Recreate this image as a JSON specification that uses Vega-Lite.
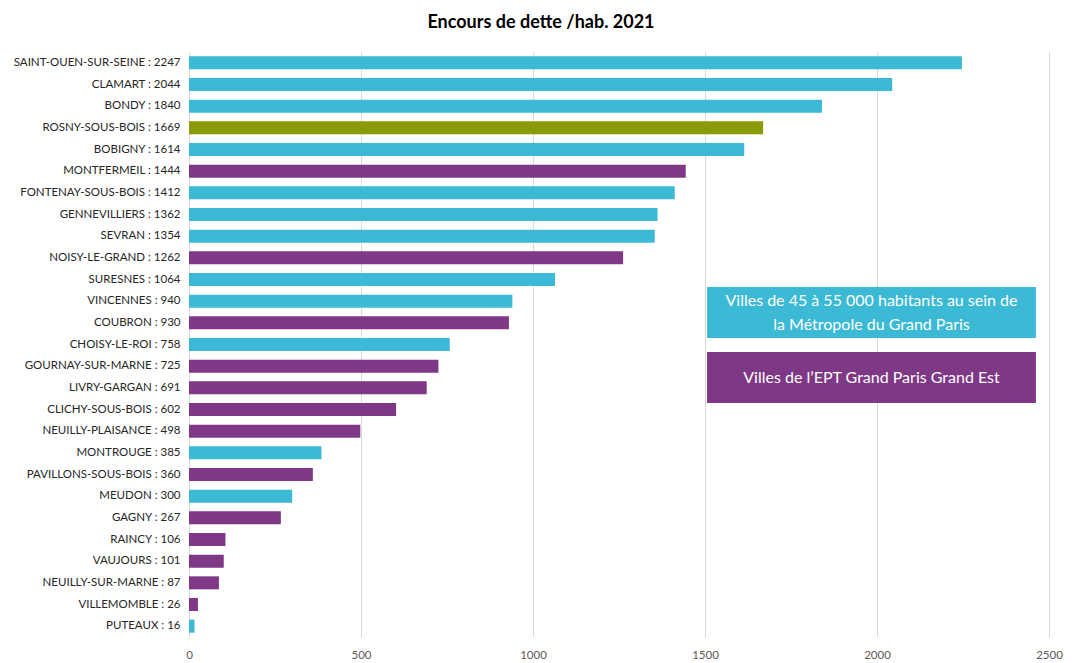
{
  "$schema": "https://vega.github.io/schema/vega-lite/v6.json",
  "autosize": {"type": "none"},
  "padding": {"left": 189, "top": 52, "right": 27, "bottom": 26},
  "width": 860,
  "height": 585,
  "background": "white",
  "title": {
    "text": "Encours de dette /hab. 2021",
    "font": "Lato",
    "fontSize": 18,
    "fontWeight": "bold",
    "color": "#000000",
    "anchor": "middle",
    "frame": "group",
    "dx": -78,
    "baseline": "middle",
    "offset": 11
  },
  "config": {
    "view": {"stroke": null},
    "font": "Lato"
  },
  "datasets": {
    "bars": [
      {"label": "SAINT-OUEN-SUR-SEINE : 2247", "name": "SAINT-OUEN-SUR-SEINE", "value": 2247, "group": "metro"},
      {"label": "CLAMART : 2044", "name": "CLAMART", "value": 2044, "group": "metro"},
      {"label": "BONDY : 1840", "name": "BONDY", "value": 1840, "group": "metro"},
      {"label": "ROSNY-SOUS-BOIS : 1669", "name": "ROSNY-SOUS-BOIS", "value": 1669, "group": "rosny"},
      {"label": "BOBIGNY : 1614", "name": "BOBIGNY", "value": 1614, "group": "metro"},
      {"label": "MONTFERMEIL : 1444", "name": "MONTFERMEIL", "value": 1444, "group": "ept"},
      {"label": "FONTENAY-SOUS-BOIS : 1412", "name": "FONTENAY-SOUS-BOIS", "value": 1412, "group": "metro"},
      {"label": "GENNEVILLIERS : 1362", "name": "GENNEVILLIERS", "value": 1362, "group": "metro"},
      {"label": "SEVRAN : 1354", "name": "SEVRAN", "value": 1354, "group": "metro"},
      {"label": "NOISY-LE-GRAND : 1262", "name": "NOISY-LE-GRAND", "value": 1262, "group": "ept"},
      {"label": "SURESNES : 1064", "name": "SURESNES", "value": 1064, "group": "metro"},
      {"label": "VINCENNES : 940", "name": "VINCENNES", "value": 940, "group": "metro"},
      {"label": "COUBRON : 930", "name": "COUBRON", "value": 930, "group": "ept"},
      {"label": "CHOISY-LE-ROI : 758", "name": "CHOISY-LE-ROI", "value": 758, "group": "metro"},
      {"label": "GOURNAY-SUR-MARNE : 725", "name": "GOURNAY-SUR-MARNE", "value": 725, "group": "ept"},
      {"label": "LIVRY-GARGAN : 691", "name": "LIVRY-GARGAN", "value": 691, "group": "ept"},
      {"label": "CLICHY-SOUS-BOIS : 602", "name": "CLICHY-SOUS-BOIS", "value": 602, "group": "ept"},
      {"label": "NEUILLY-PLAISANCE : 498", "name": "NEUILLY-PLAISANCE", "value": 498, "group": "ept"},
      {"label": "MONTROUGE : 385", "name": "MONTROUGE", "value": 385, "group": "metro"},
      {"label": "PAVILLONS-SOUS-BOIS : 360", "name": "PAVILLONS-SOUS-BOIS", "value": 360, "group": "ept"},
      {"label": "MEUDON : 300", "name": "MEUDON", "value": 300, "group": "metro"},
      {"label": "GAGNY : 267", "name": "GAGNY", "value": 267, "group": "ept"},
      {"label": "RAINCY : 106", "name": "RAINCY", "value": 106, "group": "ept"},
      {"label": "VAUJOURS : 101", "name": "VAUJOURS", "value": 101, "group": "ept"},
      {"label": "NEUILLY-SUR-MARNE : 87", "name": "NEUILLY-SUR-MARNE", "value": 87, "group": "ept"},
      {"label": "VILLEMOMBLE : 26", "name": "VILLEMOMBLE", "value": 26, "group": "ept"},
      {"label": "PUTEAUX : 16", "name": "PUTEAUX", "value": 16, "group": "metro"}
    ],
    "boxes": [
      {"group": "metro", "x1": 1506, "x2": 2462, "y1": 10.85, "y2": 13.2},
      {"group": "ept", "x1": 1506, "x2": 2462, "y1": 13.85, "y2": 16.2}
    ],
    "notes": [
      {"text": "Villes de 45 à 55 000 habitants au sein de", "x": 1984, "y": 11.5},
      {"text": "la Métropole du Grand Paris", "x": 1984, "y": 12.6},
      {"text": "Villes de l’EPT Grand Paris Grand Est", "x": 1984, "y": 15.03}
    ]
  },
  "layer": [
    {
      "data": {"name": "bars"},
      "mark": {"type": "bar"},
      "encoding": {
        "y": {
          "field": "label",
          "type": "nominal",
          "sort": null,
          "scale": {"paddingInner": 0.4, "paddingOuter": 0.2},
          "axis": {
            "title": null,
            "ticks": false,
            "domain": false,
            "grid": false,
            "labelFont": "Lato",
            "labelFontSize": 11.5,
            "labelColor": "#262626",
            "labelPadding": 9,
            "labelLimit": 300
          }
        },
        "x": {
          "field": "value",
          "type": "quantitative",
          "scale": {"domain": [0, 2500], "nice": false},
          "axis": {
            "title": null,
            "values": [0, 500, 1000, 1500, 2000, 2500],
            "format": "d",
            "ticks": false,
            "domain": false,
            "grid": true,
            "gridColor": "#d9d9d9",
            "gridWidth": 1,
            "labelFont": "Lato",
            "labelFontSize": 11.5,
            "labelColor": "#595959",
            "labelPadding": 12,
            "labelFlush": false
          }
        },
        "color": {
          "field": "group",
          "type": "nominal",
          "scale": {"domain": ["metro", "ept", "rosny"], "range": ["#3CB9D4", "#7E3885", "#8A9A06"]},
          "legend": null
        }
      }
    },
    {
      "data": {"name": "boxes"},
      "mark": {"type": "rect"},
      "encoding": {
        "x": {"field": "x1", "type": "quantitative"},
        "x2": {"field": "x2"},
        "y": {"field": "y1", "type": "quantitative", "scale": {"domain": [0, 27], "reverse": true, "nice": false, "zero": false}, "axis": null},
        "y2": {"field": "y2"},
        "color": {"field": "group", "type": "nominal", "legend": null}
      }
    },
    {
      "data": {"name": "notes"},
      "mark": {"type": "text", "color": "white", "font": "Lato", "fontSize": 16, "align": "center", "baseline": "middle"},
      "encoding": {
        "x": {"field": "x", "type": "quantitative"},
        "y": {"field": "y", "type": "quantitative", "scale": {"domain": [0, 27], "reverse": true, "nice": false, "zero": false}, "axis": null},
        "text": {"field": "text"}
      }
    }
  ],
  "resolve": {"scale": {"y": "independent"}}
}
